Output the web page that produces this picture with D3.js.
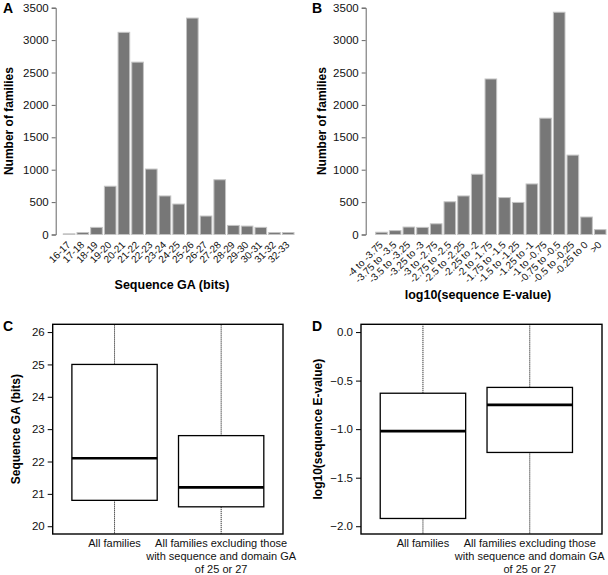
<!DOCTYPE html>
<html>
<head>
<meta charset="utf-8">
<script src="https://cdn.jsdelivr.net/npm/d3@7"></script>
<style>
  body { margin: 0; background: #fff; }
  svg { display: block; font-family: "Liberation Sans", Arial, sans-serif; }
</style>
</head>
<body>
<svg id="chart" width="608" height="575"></svg>
<script>
// ---------- DATA ----------
const gaCategories = ["16-17","17-18","18-19","19-20","20-21","21-22","22-23","23-24","24-25","25-26","26-27","27-28","28-29","29-30","30-31","31-32","32-33"];
const gaCounts = [10, 30, 110, 745, 3120, 2660, 1010, 595, 470, 3340, 285, 845, 140, 130, 110, 30, 30];

const evCategories = ["-4 to -3.75","-3.75 to -3.5","-3.5 to -3.25","-3.25 to -3","-3 to -2.75","-2.75 to -2.5","-2.5 to -2.25","-2.25 to -2","-2 to -1.75","-1.75 to -1.5","-1.5 to -1.25","-1.25 to -1","-1 to -0.75","-0.75 to -0.5","-0.5 to -0.25","-0.25 to 0",">0"];
const evCounts = [35, 60, 115, 110, 165, 505, 595, 930, 2400, 570, 495, 780, 1795, 3430, 1225, 270, 75];

const countTicks = [0, 500, 1000, 1500, 2000, 2500, 3000, 3500];

const boxGroups = ["All families", "All families excluding those with sequence and domain GA of 25 or 27"];
const boxGroupLines = [["All families"], ["All families excluding those", "with sequence and domain GA", "of 25 or 27"]];

// Sequence GA box statistics: [whisker low, Q1, median, Q3, whisker high]
const gaBoxAll = [16, 20.8, 22.1, 25.0, 31];
const gaBoxExcl = [17, 20.6, 21.2, 22.8, 29];
const gaYLim = [20, 26];
const gaTicks = [20, 21, 22, 23, 24, 25, 26];

// log10(sequence E-value) box statistics
const evBoxAll = [-4, -1.92, -1.02, -0.63, 0.5];
const evBoxExcl = [-2.6, -1.24, -0.75, -0.57, 0.4];
const evYLim = [-2, 0];
const evTicks = [-2.0, -1.5, -1.0, -0.5, 0.0];

// ---------- DRAW ----------
const svg = d3.select("#chart");
const FONT = "Liberation Sans, Arial, sans-serif";

function panelLetter(t, x, y) {
  svg.append("text").attr("x", x).attr("y", y).attr("font-size", 14).attr("font-weight", "bold")
    .attr("fill", "#000").text(t);
}

function barPanel(cats, vals, xr, yr, axisX, yTitle, yTitleX, xTitle, xTitleX, xTitleY) {
  const x = d3.scaleBand().domain(cats).range(xr).paddingInner(0.15).paddingOuter(0);
  const y = d3.scaleLinear().domain([0, 3500]).range(yr);
  const g = svg.append("g");
  g.selectAll("rect").data(vals).enter().append("rect")
    .attr("x", (d, i) => x(cats[i]))
    .attr("y", d => y(d))
    .attr("width", x.bandwidth())
    .attr("height", d => y(0) - y(d))
    .attr("fill", "#777777")
    .attr("stroke", "#c4c4c4")
    .attr("stroke-width", 1);
  const ax = svg.append("g").attr("transform", `translate(${axisX},0)`)
    .call(d3.axisLeft(y).tickValues(countTicks).tickSize(4).tickPadding(3).tickFormat(d3.format("d")));
  ax.select(".domain").attr("stroke", "#666");
  ax.selectAll(".tick line").attr("stroke", "#666");
  ax.selectAll("text").attr("font-size", 11.5).attr("fill", "#111").attr("font-family", FONT);
  // rotated category labels
  g.selectAll("text.cat").data(cats).enter().append("text")
    .attr("class", "cat")
    .attr("transform", d => `translate(${x(d) + x.bandwidth() / 2 + 2},${y(0) + 11}) rotate(-45)`)
    .attr("text-anchor", "end")
    .attr("font-size", 10)
    .attr("fill", "#111")
    .text(d => d);
  svg.append("text")
    .attr("transform", `translate(${yTitleX},${(yr[0] + yr[1]) / 2}) rotate(-90)`)
    .attr("text-anchor", "middle").attr("font-size", 12).attr("font-weight", "bold").text(yTitle);
  svg.append("text").attr("x", xTitleX).attr("y", xTitleY)
    .attr("text-anchor", "middle").attr("font-size", 12.5).attr("font-weight", "bold").text(xTitle);
}

function boxPanel(id, boxes, yLim, ticks, fmt, frame, bandRange, labelX, yTitle, yTitleX) {
  const ext = (yLim[1] - yLim[0]) * 0.04;
  const y = d3.scaleLinear().domain([yLim[0] - ext, yLim[1] + ext]).range([frame.y1, frame.y0]);
  const x = d3.scaleBand().domain(boxGroups).range(bandRange).paddingInner(0.2).paddingOuter(0.18);
  svg.append("clipPath").attr("id", id).append("rect")
    .attr("x", frame.x0).attr("y", frame.y0).attr("width", frame.x1 - frame.x0).attr("height", frame.y1 - frame.y0);
  const g = svg.append("g").attr("clip-path", `url(#${id})`);
  boxes.forEach((b, i) => {
    const x0 = x(boxGroups[i]), w = x.bandwidth(), cx = x0 + w / 2;
    g.append("line").attr("x1", cx).attr("x2", cx).attr("y1", y(b[3])).attr("y2", y(b[4]))
      .attr("stroke", "#000").attr("stroke-width", 1).attr("stroke-dasharray", "1,1");
    g.append("line").attr("x1", cx).attr("x2", cx).attr("y1", y(b[1])).attr("y2", y(b[0]))
      .attr("stroke", "#000").attr("stroke-width", 1).attr("stroke-dasharray", "1,1");
    g.append("rect").attr("x", x0).attr("y", y(b[3])).attr("width", w).attr("height", y(b[1]) - y(b[3]))
      .attr("fill", "#fff").attr("stroke", "#000").attr("stroke-width", 1.3);
    g.append("line").attr("x1", x0).attr("x2", x0 + w).attr("y1", y(b[2])).attr("y2", y(b[2]))
      .attr("stroke", "#000").attr("stroke-width", 2.6);
    boxGroupLines[i].forEach((t, k) => {
      svg.append("text").attr("x", cx).attr("y", frame.y1 + 13 + k * 13)
        .attr("text-anchor", "middle").attr("font-size", 11).attr("fill", "#111").text(t);
    });
  });
  svg.append("rect").attr("x", frame.x0).attr("y", frame.y0).attr("width", frame.x1 - frame.x0)
    .attr("height", frame.y1 - frame.y0).attr("fill", "none").attr("stroke", "#000").attr("stroke-width", 1.4);
  const ax = svg.append("g").attr("transform", `translate(${frame.x0},0)`)
    .call(d3.axisLeft(y).tickValues(ticks).tickSize(5).tickPadding(3).tickFormat(fmt));
  ax.select(".domain").remove();
  ax.selectAll(".tick line").attr("stroke", "#000");
  ax.selectAll("text").attr("font-size", 11.5).attr("fill", "#111").attr("font-family", FONT);
  svg.append("text")
    .attr("transform", `translate(${yTitleX},${(frame.y0 + frame.y1) / 2}) rotate(-90)`)
    .attr("text-anchor", "middle").attr("font-size", 12).attr("font-weight", "bold").text(yTitle);
}

barPanel(gaCategories, gaCounts, [63.3, 294], [234.5, 7.7], 55.7, "Number of families", 13, "Sequence GA (bits)", 172, 289);
barPanel(evCategories, evCounts, [375.7, 606], [234.5, 7.7], 365.7, "Number of families", 326, "log10(sequence E-value)", 478, 299);

boxPanel("clipC", [gaBoxAll, gaBoxExcl], gaYLim, gaTicks, d3.format("d"),
  {x0: 52.7, x1: 283, y0: 324.3, y1: 534}, [52.7, 283], null, "Sequence GA (bits)", 20);
boxPanel("clipD", [evBoxAll, evBoxExcl], evYLim, evTicks, d3.format(".1f"),
  {x0: 361, x1: 602, y0: 324.3, y1: 534}, [361, 591.7], null, "log10(sequence E-value)", 322);

panelLetter("A", 3, 13);
panelLetter("B", 312, 13);
panelLetter("C", 3, 331);
panelLetter("D", 312, 331);
</script>
</body>
</html>
